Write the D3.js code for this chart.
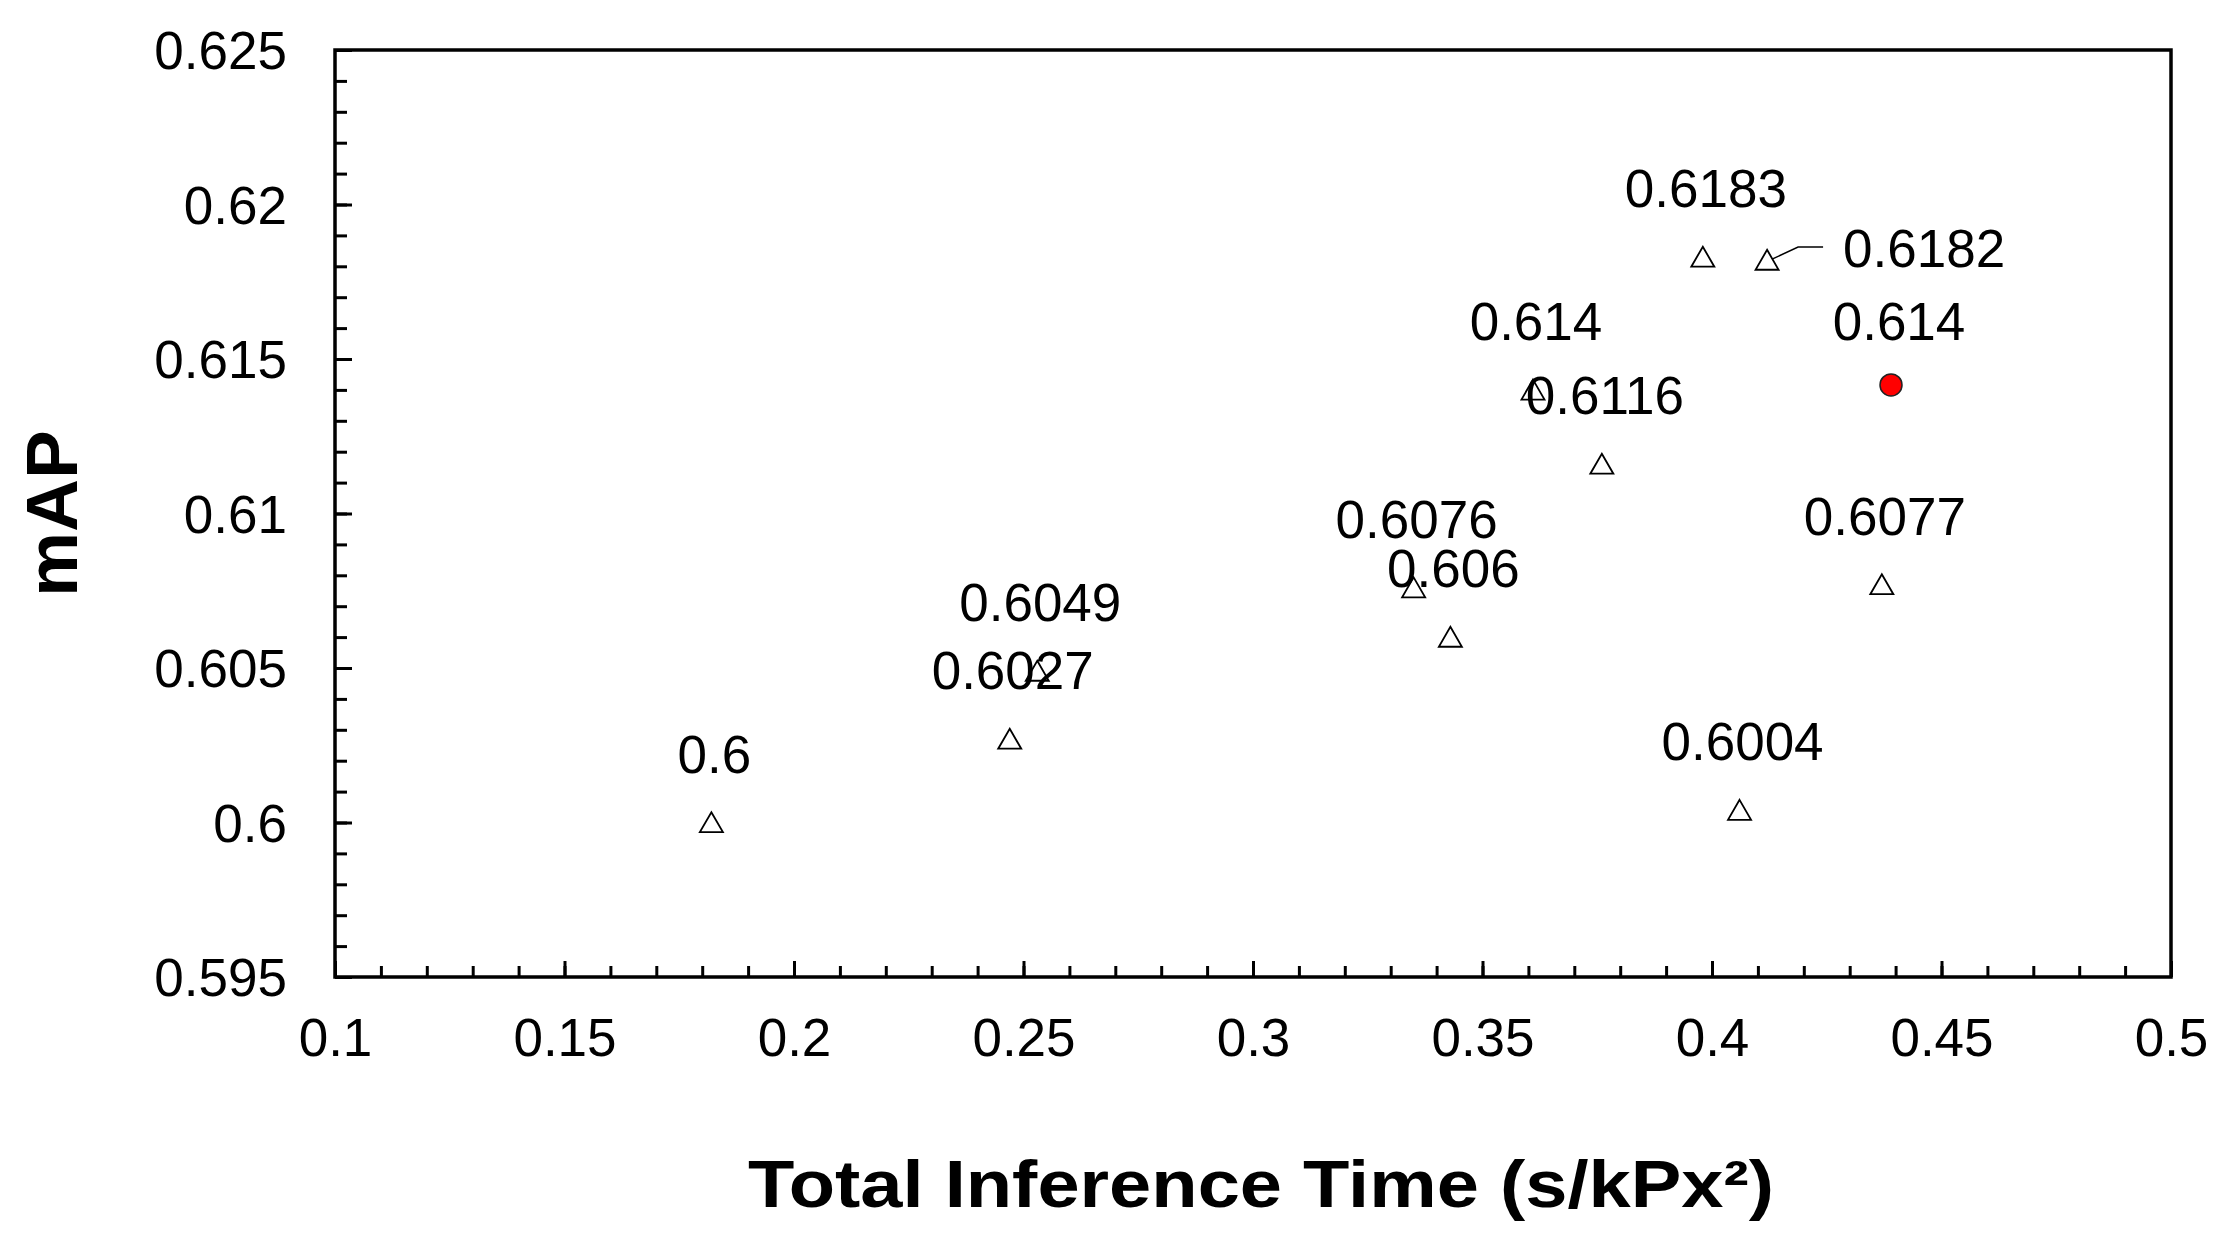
<!DOCTYPE html>
<html>
<head>
<meta charset="utf-8">
<script src="https://cdn.jsdelivr.net/npm/d3@7"></script>
<style>
  html, body { margin: 0; padding: 0; background: #fff; }
  svg { display: block; }
  text { font-family: "Liberation Sans", Arial, sans-serif; fill: #000; }
</style>
</head>
<body>
<svg id="chart" width="2222" height="1248"></svg>
<script>
// ---- data ----
const timeValues = [0.182, 0.247, 0.253, 0.335, 0.343, 0.361, 0.376, 0.398, 0.412, 0.406, 0.437];
const mapValues  = [0.6, 0.6027, 0.6049, 0.6076, 0.606, 0.614, 0.6116, 0.6183, 0.6182, 0.6004, 0.6077];
const pointLabels = ["0.6", "0.6027", "0.6049", "0.6076", "0.606", "0.614", "0.6116", "0.6183", "0.6182", "0.6004", "0.6077"];
const highlightTime = [0.439];
const highlightMap = [0.614];
const highlightLabels = ["0.614"];

const xTickValues = [0.1, 0.15, 0.2, 0.25, 0.3, 0.35, 0.4, 0.45, 0.5];
const xTickLabels = ["0.1", "0.15", "0.2", "0.25", "0.3", "0.35", "0.4", "0.45", "0.5"];
const yTickValues = [0.595, 0.6, 0.605, 0.61, 0.615, 0.62, 0.625];
const yTickLabels = ["0.595", "0.6", "0.605", "0.61", "0.615", "0.62", "0.625"];
const xTitle = "Total Inference Time (s/kPx²)";
const yTitle = "mAP";

// ---- layout ----
const L = 335, R = 2171, T = 50, B = 977;
const svg = d3.select("#chart");
svg.append("rect").attr("width", 2222).attr("height", 1248).attr("fill", "#fff");

const x = d3.scaleLinear().domain([0.1, 0.5]).range([L, R]);
const y = d3.scaleLinear().domain([0.595, 0.625]).range([B, T]);

const xMinor = d3.range(0, 41).map(i => 0.1 + i * 0.01);
const yMinor = d3.range(0, 31).map(i => 0.595 + i * 0.001);

// minor ticks
svg.append("g").attr("transform", `translate(0,${B})`)
  .call(d3.axisBottom(x).tickValues(xMinor).tickSize(-11).tickFormat(""))
  .call(g => g.select(".domain").remove())
  .call(g => g.selectAll("line").attr("stroke", "#000").attr("stroke-width", 3));
svg.append("g").attr("transform", `translate(${L},0)`)
  .call(d3.axisLeft(y).tickValues(yMinor).tickSize(-12).tickFormat(""))
  .call(g => g.select(".domain").remove())
  .call(g => g.selectAll("line").attr("stroke", "#000").attr("stroke-width", 3));

// major ticks + labels
const xAxis = svg.append("g").attr("transform", `translate(0,${B})`)
  .call(d3.axisBottom(x).tickValues(xTickValues).tickSize(-16).tickPadding(41)
    .tickFormat((d, i) => xTickLabels[i]));
xAxis.select(".domain").remove();
xAxis.selectAll("line").attr("stroke", "#000").attr("stroke-width", 3);
xAxis.selectAll("text").attr("font-size", 53).attr("dy", "0.72em")
  .style("font-family", '"Liberation Sans", Arial, sans-serif').attr("fill", "#000");

const yAxis = svg.append("g").attr("transform", `translate(${L},0)`)
  .call(d3.axisLeft(y).tickValues(yTickValues).tickSize(-17).tickPadding(48)
    .tickFormat((d, i) => yTickLabels[i]));
yAxis.select(".domain").remove();
yAxis.selectAll("line").attr("stroke", "#000").attr("stroke-width", 3);
yAxis.selectAll("text").attr("font-size", 53).attr("dy", "0.35em")
  .style("font-family", '"Liberation Sans", Arial, sans-serif').attr("fill", "#000");

// frame
svg.append("rect").attr("x", L).attr("y", T).attr("width", R - L).attr("height", B - T)
  .attr("fill", "none").attr("stroke", "#000").attr("stroke-width", 3.5);

// titles
svg.append("text").attr("x", (L + R) / 2 + 8).attr("y", 1207)
  .attr("text-anchor", "middle").attr("font-size", 66).attr("font-weight", "bold")
  .attr("textLength", 1026).attr("lengthAdjust", "spacingAndGlyphs")
  .text(xTitle);
svg.append("text").attr("transform", `translate(77,${(T + B) / 2}) rotate(-90)`)
  .attr("text-anchor", "middle").attr("font-size", 73).attr("font-weight", "bold")
  .text(yTitle);

// data
const pts = timeValues.map((t, i) => ({ t, m: mapValues[i], label: pointLabels[i] }));
const hl = highlightTime.map((t, i) => ({ t, m: highlightMap[i], label: highlightLabels[i] }));

const tri = d3.symbol().type(d3.symbolTriangle).size(230);
svg.append("g").selectAll("path").data(pts).join("path")
  .attr("d", tri)
  .attr("transform", d => `translate(${x(d.t)},${y(d.m) + 3})`)
  .attr("fill", "none").attr("stroke", "#000").attr("stroke-width", 1.8);

svg.append("g").selectAll("circle").data(hl).join("circle")
  .attr("cx", d => x(d.t)).attr("cy", d => y(d.m) - 5).attr("r", 11)
  .attr("fill", "#ff0000").attr("stroke", "#222").attr("stroke-width", 1.5);

// leader line for the 0.6182 label (placed to the right)
const special = pts.find(d => d.label === "0.6182");
const sx = x(special.t), sy = y(special.m);
svg.append("path")
  .attr("d", d3.line()([[sx + 5, sy - 1], [sx + 31, sy - 13], [sx + 56, sy - 13]]))
  .attr("fill", "none").attr("stroke", "#000").attr("stroke-width", 1.5);

// labels
const lab = svg.append("g").attr("font-size", 53);
lab.selectAll("text.p").data(pts).join("text").attr("class", "p")
  .attr("x", d => d.label === "0.6182" ? x(d.t) + 76 : x(d.t) + 3)
  .attr("y", d => d.label === "0.6182" ? y(d.m) + 7 : y(d.m) - 50)
  .attr("text-anchor", d => d.label === "0.6182" ? "start" : "middle")
  .text(d => d.label);
lab.selectAll("text.h").data(hl).join("text").attr("class", "h")
  .attr("x", d => x(d.t) + 8).attr("y", d => y(d.m) - 50)
  .attr("text-anchor", "middle")
  .text(d => d.label);
</script>
</body>
</html>
